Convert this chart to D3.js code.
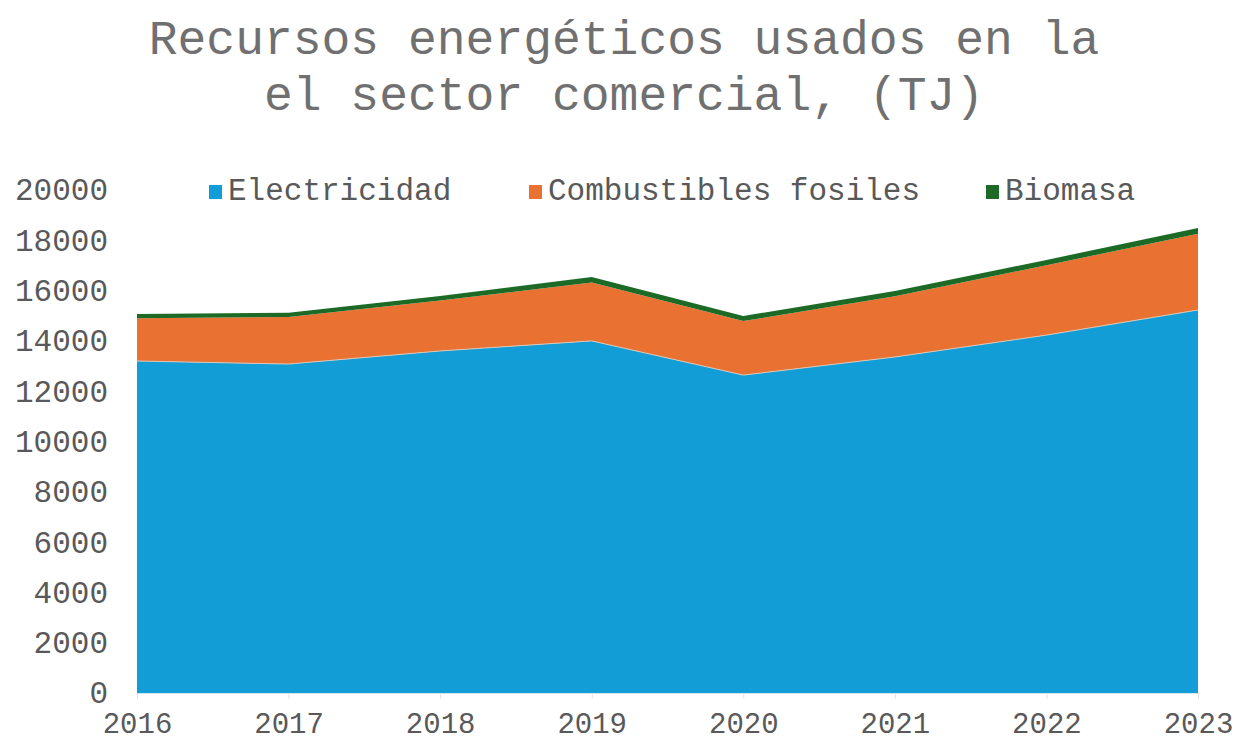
<!DOCTYPE html>
<html>
<head>
<meta charset="utf-8">
<script src="https://cdn.jsdelivr.net/npm/d3@7"></script>
<style>
  body { margin: 0; background: #fff; }
  text { font-family: "Liberation Mono", "Courier New", monospace; fill: #595959; }
</style>
</head>
<body>
<svg id="chart"></svg>
<script>
// chart data (TJ)
const years = [2016, 2017, 2018, 2019, 2020, 2021, 2022, 2023];
const electricidad = [13200, 13080, 13600, 14000, 12640, 13360, 14230, 15230];
const combustibles = [1700, 1870, 2010, 2320, 2150, 2420, 2780, 3030];
const biomasa = [170, 170, 180, 220, 200, 200, 210, 230];
const series_names = ['Electricidad', 'Combustibles fosiles', 'Biomasa'];
const series_colors = ['#139dd6', '#e97131', '#1d6a27'];
const y_ticks = [0, 2000, 4000, 6000, 8000, 10000, 12000, 14000, 16000, 18000, 20000];
const title_lines = ['Recursos energéticos usados en la', 'el sector comercial, (TJ)'];

const width = 1239;
const height = 741;
// plot edges (window.top is taken, hence the prefix)
const plot_left = 137, plot_right = 1198, plot_top = 190, plot_bottom = 693;

const chart = d3.select('#chart')
  .attr('width', width)
  .attr('height', height);

// title
chart.selectAll('.title')
    .data(title_lines)
  .enter().append('text')
    .attr('x', 624)
    .attr('y', (d, i) => 54 + i * 56)
    .attr('text-anchor', 'middle')
    .style('font-size', '48px')
    .style('fill', '#707070')
    .text(d => d);

const x = d3.scaleLinear().domain([years[0], years[years.length - 1]]).range([plot_left, plot_right]);
const y = d3.scaleLinear().domain([0, 20000]).range([plot_bottom, plot_top]);

const rows = years.map((yr, i) => ({
  year: yr,
  Electricidad: electricidad[i],
  'Combustibles fosiles': combustibles[i],
  Biomasa: biomasa[i],
}));

const stacked = d3.stack().keys(series_names)(rows);

const area = d3.area()
  .x(d => x(d.data.year))
  .y0(d => y(d[0]))
  .y1(d => y(d[1]));

chart.append('g').selectAll('path')
    .data(stacked)
  .enter().append('path')
    .attr('d', area)
    .attr('fill', (d, i) => series_colors[i]);

// thin light seam between electricity and fossil fuel, like the original
chart.append('path')
  .datum(stacked[0])
  .attr('d', d3.line().x(d => x(d.data.year)).y(d => y(d[1])))
  .attr('fill', 'none')
  .attr('stroke', '#d9c7b8')
  .attr('stroke-width', 1);

// x axis
const x_axis = chart.append('g')
  .attr('transform', `translate(0,${plot_bottom})`)
  .call(d3.axisBottom(x).tickValues(years).tickFormat(d3.format('d')).tickSize(6).tickPadding(6));
x_axis.select('.domain').attr('stroke', '#d6e4ee');
x_axis.selectAll('.tick line').attr('stroke', '#e2e2e2');
x_axis.selectAll('.tick text')
  .style('font-size', '29px')
  .attr('dy', '0.97em')
  .style('fill', '#595959');

// y axis
const y_axis = chart.append('g')
  .attr('transform', `translate(${plot_left - 29},0)`)
  .call(d3.axisLeft(y).tickValues(y_ticks).tickFormat(d3.format('d')).tickSize(0).tickPadding(0));
y_axis.select('.domain').remove();
y_axis.selectAll('.tick text')
  .style('font-size', '31px')
  .style('fill', '#595959');

// legend
const legend_x = [209, 529, 986];
const legend = chart.append('g').selectAll('g')
    .data(series_names)
  .enter().append('g')
    .attr('transform', (d, i) => `translate(${legend_x[i]},185)`);
legend.append('rect')
  .attr('width', 13)
  .attr('height', 14)
  .attr('fill', (d, i) => series_colors[i]);
legend.append('text')
  .attr('x', 19)
  .attr('y', 15)
  .style('font-size', '31px')
  .text(d => d);
</script>
</body>
</html>
